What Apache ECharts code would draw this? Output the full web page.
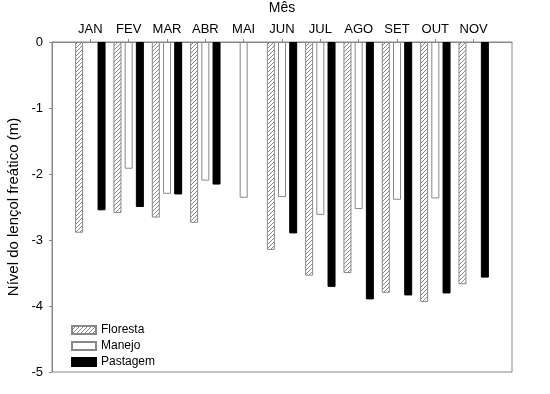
<!DOCTYPE html>
<html>
<head>
<meta charset="utf-8">
<script src="https://cdn.jsdelivr.net/npm/echarts@6/dist/echarts.min.js"></script>
<style>html,body{margin:0;padding:0;background:#fff}#c{width:550px;height:394px}</style>
</head>
<body>
<div id="c"></div>
<script>
const months = ['', 'JAN', 'FEV', 'MAR', 'ABR', 'MAI', 'JUN', 'JUL', 'AGO', 'SET', 'OUT', 'NOV', ''];
const floresta = [null, -2.89, -2.59, -2.66, -2.74, null, -3.15, -3.54, -3.50, -3.80, -3.94, -3.67, null];
const manejo   = [null, null, -1.92, -2.30, -2.10, -2.36, -2.35, -2.62, -2.53, -2.39, -2.37, null, null];
const pastagem = [null, -2.55, -2.50, -2.31, -2.16, null, -2.90, -3.71, -3.90, -3.84, -3.81, -3.57, null];
const seriesNames = ['Floresta', 'Manejo', 'Pastagem'];
const yTitle = 'Nível do lençol freático (m)';
const xTitle = 'Mês';

function hatch() {
  const c = document.createElement('canvas');
  c.width = 4; c.height = 4;
  const g = c.getContext('2d');
  g.fillStyle = '#fff'; g.fillRect(0, 0, 4, 4);
  g.strokeStyle = '#8a8a8a'; g.lineWidth = 1;
  g.beginPath();
  g.moveTo(-1, 5); g.lineTo(5, -1);
  g.moveTo(-1, 1); g.lineTo(1, -1);
  g.moveTo(3, 5); g.lineTo(5, 3);
  g.stroke();
  return c;
}
const font = 'Arial, "Liberation Sans", sans-serif';
const chart = echarts.init(document.getElementById('c'), null, {renderer: 'canvas'});
const common = {type: 'bar', barWidth: 8, barGap: '40%', animation: false};
chart.setOption({
  backgroundColor: '#fff',
  textStyle: {fontFamily: font},
  grid: {left: 52, right: 38, top: 42, bottom: 22, show: true, borderColor: '#888', borderWidth: 1,
         containLabel: false, outerBoundsMode: 'none'},
  legend: {
    orient: 'vertical', left: 66, top: 319, itemWidth: 24, itemHeight: 8, itemGap: 4,
    icon: 'rect', data: seriesNames,
    textStyle: {fontSize: 12, color: '#000', fontFamily: font, padding: [0, 0, 0, 0]}
  },
  xAxis: {
    type: 'category', position: 'top', boundaryGap: false, data: months,
    name: xTitle, nameLocation: 'middle', nameGap: 27, nameMoveOverlap: false,
    nameTextStyle: {fontSize: 14, color: '#000', fontFamily: font},
    axisLine: {lineStyle: {color: '#888'}},
    axisTick: {show: true, length: 3, lineStyle: {color: '#888'}, interval: (i) => i > 0 && i < 12},
    axisLabel: {fontSize: 13, color: '#000', margin: 6, interval: 0, fontFamily: font},
    splitLine: {show: false}
  },
  yAxis: {
    type: 'value', min: -5, max: 0, interval: 1,
    name: yTitle, nameLocation: 'middle', nameRotate: 90, nameGap: 31, nameMoveOverlap: false,
    nameTextStyle: {fontSize: 15, color: '#000', fontFamily: font},
    axisLine: {show: true, lineStyle: {color: '#888'}},
    axisTick: {show: true, length: 3, lineStyle: {color: '#888'}},
    axisLabel: {fontSize: 13, color: '#000', margin: 9, fontFamily: font},
    splitLine: {show: false}
  },
  series: [
    Object.assign({}, common, {name: seriesNames[0], data: floresta,
      itemStyle: {color: {image: hatch(), repeat: 'repeat'}, borderColor: '#888', borderWidth: 1}}),
    Object.assign({}, common, {name: seriesNames[1], data: manejo,
      itemStyle: {color: '#fff', borderColor: '#888', borderWidth: 1}}),
    Object.assign({}, common, {name: seriesNames[2], data: pastagem,
      itemStyle: {color: '#000', borderColor: '#000', borderWidth: 1}})
  ]
});
</script>
</body>
</html>
